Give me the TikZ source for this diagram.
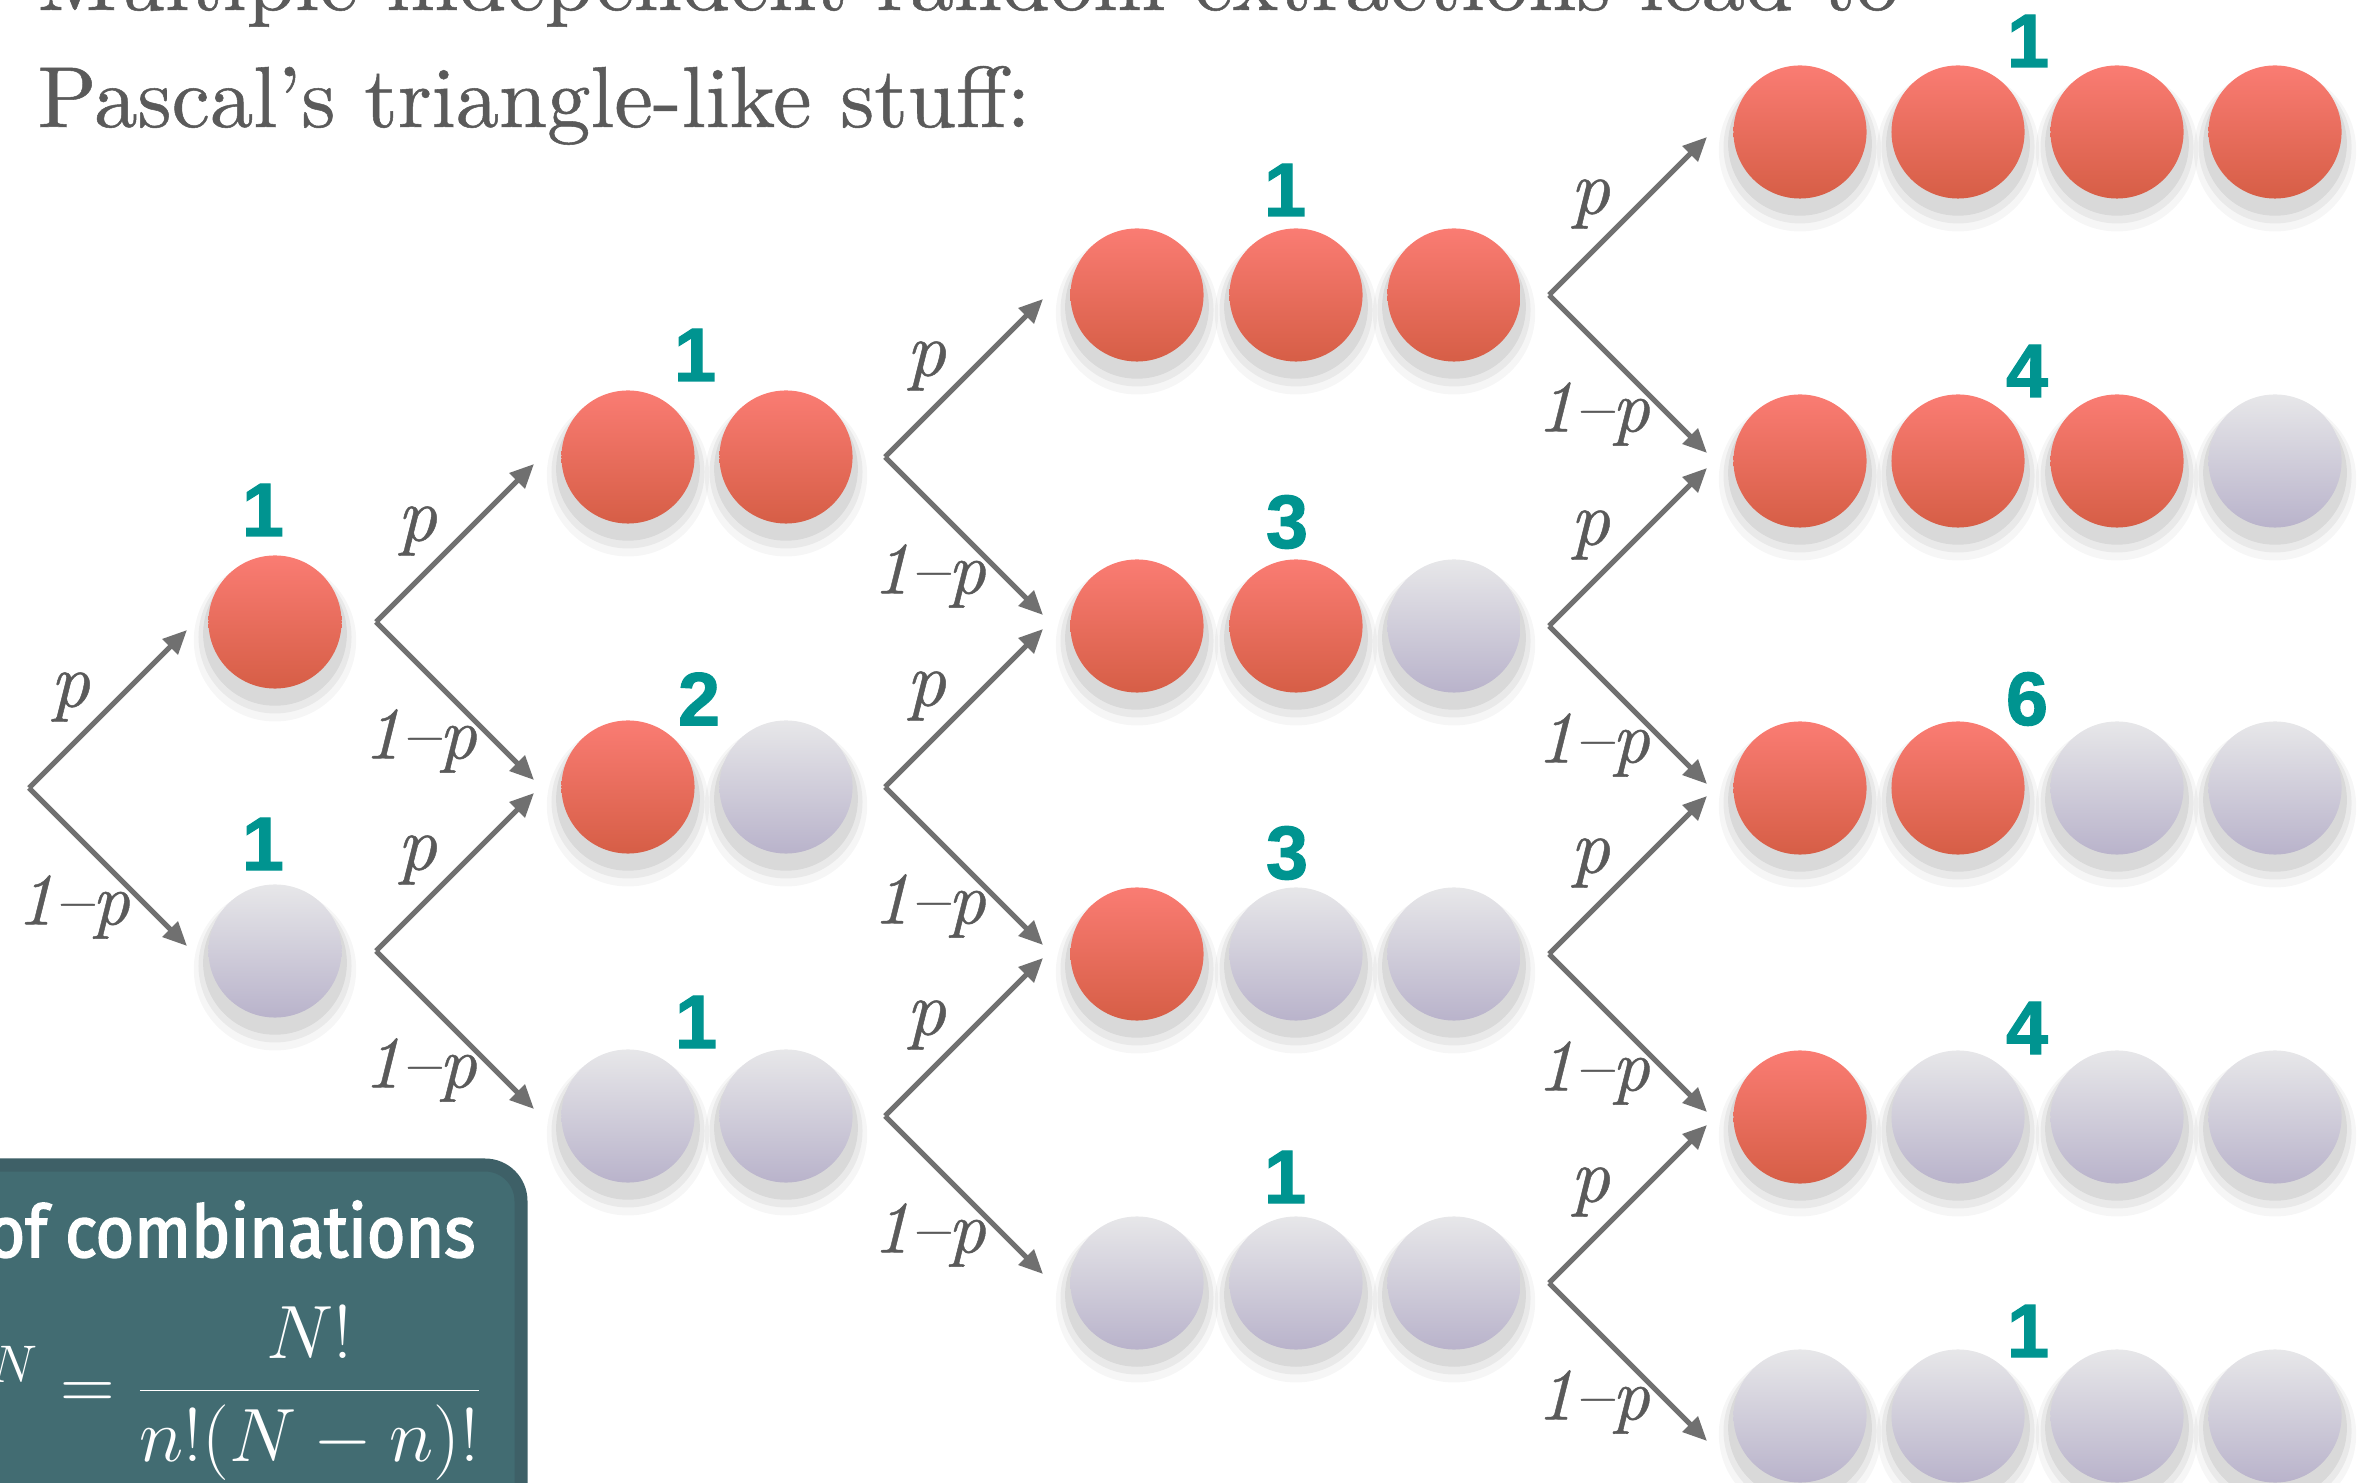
\documentclass[tikz,border=0pt]{standalone}
\usepackage{fix-cm}
\usepackage{fontspec}
\newfontfamily\numfont{Liberation Sans Bold}[FakeBold=1.5]
\newfontfamily\boxfont{Fira Sans}[FakeBold=2.4, FakeStretch=0.92]
\newfontfamily\headfont{lmroman10-regular.otf}[FakeBold=0.6]
\newfontfamily\labfont{lmroman10-italic.otf}[FakeBold=0.6]
\usetikzlibrary{arrows.meta,shadows}
\definecolor{redtop}{RGB}{250,124,115}
\definecolor{redbot}{RGB}{214,94,70}
\definecolor{greytop}{RGB}{231,231,233}
\definecolor{greybot}{RGB}{185,179,203}
\definecolor{numteal}{RGB}{0,148,144}
\definecolor{arrgrey}{RGB}{112,112,112}
\definecolor{labgrey}{RGB}{90,90,90}
\definecolor{boxfill}{RGB}{66,108,114}
\definecolor{boxedge}{RGB}{62,96,103}

\begin{document}
\begin{tikzpicture}[x=0.01cm, y=-0.01cm,
    redball/.style={circle, minimum size=1.33cm, inner sep=0pt, top color=redtop, bottom color=redbot,
      drop shadow={shadow xshift=0cm, shadow yshift=-0.15cm, shadow scale=1.22, fill=black, opacity=0.035},
      drop shadow={shadow xshift=0cm, shadow yshift=-0.13cm, shadow scale=1.15, fill=black, opacity=0.05},
      drop shadow={shadow xshift=0cm, shadow yshift=-0.11cm, shadow scale=1.08, fill=black, opacity=0.07}},
    greyball/.style={redball, top color=greytop, bottom color=greybot},
    count/.style={inner sep=0pt, text=numteal, font=\numfont\fontsize{21.5}{25}\selectfont},
    branch/.style={draw=arrgrey, line width=0.05cm, -{Triangle[length=0.24cm, width=0.21cm]}},
    plab/.style={midway, inner sep=0pt, text=labgrey, font=\labfont\fontsize{22}{26}\selectfont, xshift=-0.38cm, yshift=0.12cm},
    qlab/.style={midway, inner sep=0pt, text=labgrey, font=\labfont\fontsize{21}{25}\selectfont, xshift=-0.35cm, yshift=-0.40cm}]
    \useasboundingbox (0,0) rectangle (2367,1483);
    \clip (0,0) rectangle (2367,1483);

    % heading
    \node[anchor=base west, inner sep=0pt, text=labgrey, font=\headfont\fontsize{24.6}{30}\selectfont] (title1) at (37,10) {Multiple independent random extractions lead to};
    \node[anchor=base west, inner sep=0pt, text=labgrey, font=\headfont\fontsize{24.6}{30}\selectfont] (title2) at (37,127) {Pascal’s triangle-like stuff:};

    % one extraction
    \node[redball] (b111) at (275,622) {};
    \node[greyball] (b121) at (275,951) {};

    % two extractions
    \node[redball] (b211) at (628,457) {};
    \node[redball] (b212) at (786,457) {};
    \node[redball] (b221) at (628,787) {};
    \node[greyball] (b222) at (786,787) {};
    \node[greyball] (b231) at (628,1116) {};
    \node[greyball] (b232) at (786,1116) {};

    % three extractions
    \node[redball] (b311) at (1137,295) {};
    \node[redball] (b312) at (1296,295) {};
    \node[redball] (b313) at (1454,295) {};
    \node[redball] (b321) at (1137,626) {};
    \node[redball] (b322) at (1296,626) {};
    \node[greyball] (b323) at (1454,626) {};
    \node[redball] (b331) at (1137,954) {};
    \node[greyball] (b332) at (1296,954) {};
    \node[greyball] (b333) at (1454,954) {};
    \node[greyball] (b341) at (1137,1283) {};
    \node[greyball] (b342) at (1296,1283) {};
    \node[greyball] (b343) at (1454,1283) {};

    % four extractions
    \node[redball] (b411) at (1800,132) {};
    \node[redball] (b412) at (1958,132) {};
    \node[redball] (b413) at (2117,132) {};
    \node[redball] (b414) at (2275,132) {};
    \node[redball] (b421) at (1800,461) {};
    \node[redball] (b422) at (1958,461) {};
    \node[redball] (b423) at (2117,461) {};
    \node[greyball] (b424) at (2275,461) {};
    \node[redball] (b431) at (1800,788) {};
    \node[redball] (b432) at (1958,788) {};
    \node[greyball] (b433) at (2117,788) {};
    \node[greyball] (b434) at (2275,788) {};
    \node[redball] (b441) at (1800,1117) {};
    \node[greyball] (b442) at (1958,1117) {};
    \node[greyball] (b443) at (2117,1117) {};
    \node[greyball] (b444) at (2275,1117) {};
    \node[greyball] (b451) at (1800,1416) {};
    \node[greyball] (b452) at (1958,1416) {};
    \node[greyball] (b453) at (2117,1416) {};
    \node[greyball] (b454) at (2275,1416) {};

    % counts
    \node[count] (n11) at (263,510) {1};
    \node[count] (n12) at (263,844) {1};
    \node[count] (n21) at (695,355) {1};
    \node[count] (n22) at (699,699) {2};
    \node[count] (n23) at (696,1022) {1};
    \node[count] (n31) at (1285,190) {1};
    \node[count] (n32) at (1287,522) {3};
    \node[count] (n33) at (1287,853) {3};
    \node[count] (n34) at (1285,1177) {1};
    \node[count] (n41) at (2028,41) {1};
    \node[count] (n42) at (2027,371) {4};
    \node[count] (n43) at (2027,699) {6};
    \node[count] (n44) at (2027,1028) {4};
    \node[count] (n45) at (2028,1331) {1};

    % forks and arrow ends
    \coordinate (f0) at (29,788);
    \coordinate (t0u) at (187,630);
    \coordinate (t0d) at (187,946);
    \coordinate (f11) at (376,622);
    \coordinate (t11u) at (534,464);
    \coordinate (t11d) at (534,780);
    \coordinate (f12) at (376,951);
    \coordinate (t12u) at (534,793);
    \coordinate (t12d) at (534,1109);
    \coordinate (f21) at (885,457);
    \coordinate (t21u) at (1043,299);
    \coordinate (t21d) at (1043,615);
    \coordinate (f22) at (885,787);
    \coordinate (t22u) at (1043,629);
    \coordinate (t22d) at (1043,945);
    \coordinate (f23) at (885,1116);
    \coordinate (t23u) at (1043,958);
    \coordinate (t23d) at (1043,1274);
    \coordinate (f31) at (1549,295);
    \coordinate (t31u) at (1707,137);
    \coordinate (t31d) at (1707,453);
    \coordinate (f32) at (1549,626);
    \coordinate (t32u) at (1707,468);
    \coordinate (t32d) at (1707,784);
    \coordinate (f33) at (1549,954);
    \coordinate (t33u) at (1707,796);
    \coordinate (t33d) at (1707,1112);
    \coordinate (f34) at (1549,1283);
    \coordinate (t34u) at (1707,1125);
    \coordinate (t34d) at (1707,1441);

    \draw[branch] (f0)--(t0u) node[plab] {p};
    \draw[branch] (f0)--(t0d) node[qlab] {1–p};
    \draw[branch] (f11)--(t11u) node[plab] {p};
    \draw[branch] (f11)--(t11d) node[qlab] {1–p};
    \draw[branch] (f12)--(t12u) node[plab] {p};
    \draw[branch] (f12)--(t12d) node[qlab] {1–p};
    \draw[branch] (f21)--(t21u) node[plab] {p};
    \draw[branch] (f21)--(t21d) node[qlab] {1–p};
    \draw[branch] (f22)--(t22u) node[plab] {p};
    \draw[branch] (f22)--(t22d) node[qlab] {1–p};
    \draw[branch] (f23)--(t23u) node[plab] {p};
    \draw[branch] (f23)--(t23d) node[qlab] {1–p};
    \draw[branch] (f31)--(t31u) node[plab] {p};
    \draw[branch] (f31)--(t31d) node[qlab] {1–p};
    \draw[branch] (f32)--(t32u) node[plab] {p};
    \draw[branch] (f32)--(t32d) node[qlab] {1–p};
    \draw[branch] (f33)--(t33u) node[plab] {p};
    \draw[branch] (f33)--(t33d) node[qlab] {1–p};
    \draw[branch] (f34)--(t34u) node[plab] {p};
    \draw[branch] (f34)--(t34d) node[qlab] {1–p};

    % combinations box
    \draw[line width=0.13cm, draw=boxedge, fill=boxfill, rounded corners=0.36cm] (-60,1165) rectangle (521,1560);
    \node[anchor=base east, inner sep=0pt, text=white, font=\boxfont\fontsize{20.5}{24}\selectfont] (combi) at (476,1257) {of combinations};
    \node[anchor=east, inner sep=0pt, text=white, font=\fontsize{21.5}{26}\selectfont] (formula) at (484,1393) {${}^{N} = \displaystyle\frac{N!}{n!(N-n)!}$};
\end{tikzpicture}
\end{document}
